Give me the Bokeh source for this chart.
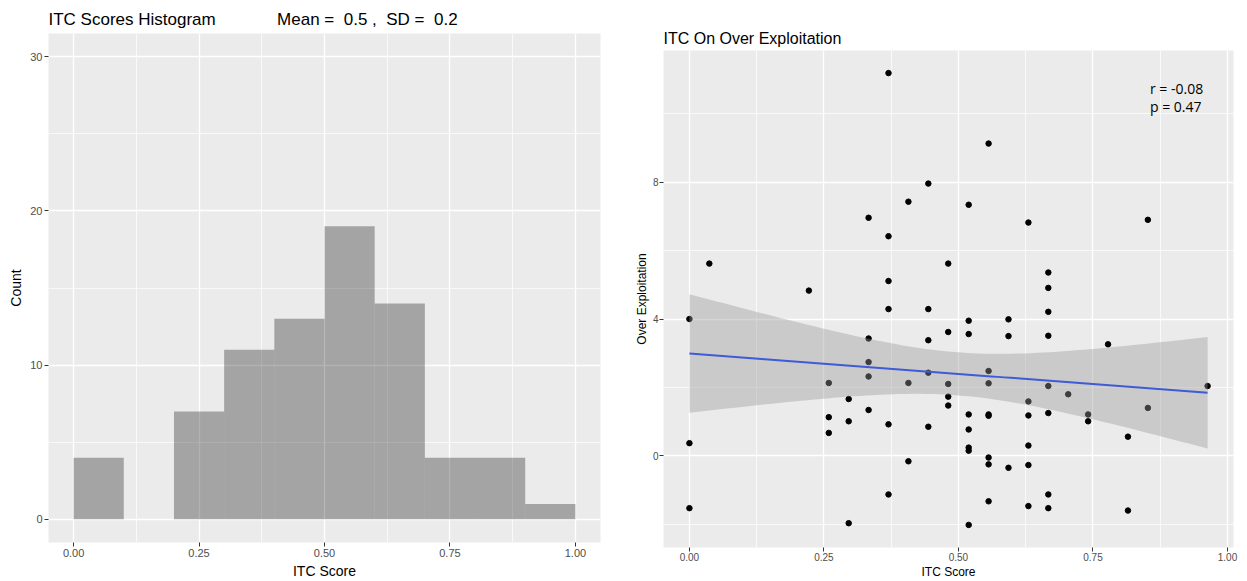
import numpy as np
from bokeh.plotting import figure
from bokeh.models import Range1d, FixedTicker, PrintfTickFormatter, Label, Title
from bokeh.layouts import row, column
from bokeh.embed import file_html
from bokeh.resources import INLINE

# ---------------- data ----------------
# Histogram of ITC scores (bin width 0.1)
bin_edges = [0.0, 0.1, 0.2, 0.3, 0.4, 0.5, 0.6, 0.7, 0.8, 0.9, 1.0]
bin_counts = [4, 0, 7, 11, 13, 19, 14, 4, 4, 1]
hist_title = "ITC Scores Histogram"
hist_stats = "Mean =  0.5 ,  SD =  0.2"

# Scatter: ITC score vs over exploitation
itc_score = [
    0.000, 0.000, 0.000, 0.037, 0.222,
    0.259, 0.259, 0.259, 0.296, 0.296, 0.296,
    0.333, 0.333, 0.333, 0.333, 0.333,
    0.370, 0.370, 0.370, 0.370, 0.370, 0.370,
    0.407, 0.407, 0.407,
    0.444, 0.444, 0.444, 0.444, 0.444,
    0.481, 0.481, 0.481, 0.481, 0.481,
    0.519, 0.519, 0.519, 0.519, 0.519, 0.519, 0.519, 0.519,
    0.556, 0.556, 0.556, 0.556, 0.556, 0.556, 0.556, 0.556,
    0.593, 0.593, 0.593,
    0.630, 0.630, 0.630, 0.630, 0.630, 0.630,
    0.667, 0.667, 0.667, 0.667, 0.667, 0.667, 0.667, 0.667,
    0.704, 0.741, 0.741, 0.778, 0.815, 0.815, 0.852, 0.852, 0.963,
]
over_exploitation = [
    4.00, 0.37, -1.53, 5.62, 4.83,
    2.13, 1.13, 0.67, 1.66, 1.01, -1.97,
    6.96, 3.43, 2.74, 2.32, 1.34,
    11.19, 6.42, 5.11, 4.29, 0.92, -1.13,
    7.43, 2.13, -0.16,
    7.96, 4.29, 3.38, 2.43, 0.85,
    5.62, 3.62, 2.10, 1.73, 1.47,
    7.34, 3.95, 3.56, 1.21, 0.77, 0.24, 0.15, -2.02,
    9.13, 2.48, 2.12, 1.21, 1.17, -0.05, -0.25, -1.33,
    3.99, 3.50, -0.35,
    6.82, 1.59, 1.18, 0.30, -0.27, -1.47,
    5.36, 4.91, 4.21, 3.51, 2.04, 1.25, -1.13, -1.53,
    1.80, 1.21, 1.01, 3.26, 0.56, -1.60, 6.90, 1.40, 2.04,
]
scatter_title = "ITC On Over Exploitation"
stat_r = "r = -0.08"
stat_p = "p = 0.47"
T_975 = 1.992  # t quantile, 95% CI, df = n - 2

FONT = "Liberation Sans"
NBSP = "\u00a0"


def style(p, xt, xminor, yt, yminor, xfmt, yfmt, tick_size, label_size):
    xtick = FixedTicker(ticks=xt, minor_ticks=xminor)
    ytick = FixedTicker(ticks=yt, minor_ticks=yminor)
    p.xaxis.ticker = xtick
    p.yaxis.ticker = ytick
    p.xgrid.ticker = xtick
    p.ygrid.ticker = ytick
    p.xaxis.formatter = PrintfTickFormatter(format=xfmt)
    p.yaxis.formatter = PrintfTickFormatter(format=yfmt)
    for g in (p.xgrid, p.ygrid):
        g.grid_line_color = "white"
        g.grid_line_width = 1.3
        g.minor_grid_line_color = "white"
        g.minor_grid_line_width = 0.7
    p.axis.axis_line_color = None
    p.axis.major_tick_line_color = "#333333"
    p.axis.major_tick_out = 4
    p.axis.major_tick_in = 0
    p.axis.minor_tick_line_color = None
    p.axis.major_label_text_color = "#4D4D4D"
    p.axis.major_label_text_font = FONT
    p.axis.major_label_text_font_size = tick_size
    p.axis.major_label_standoff = 2
    p.axis.axis_label_standoff = 3
    p.axis.axis_label_text_font = FONT
    p.axis.axis_label_text_font_style = "normal"
    p.axis.axis_label_text_font_size = label_size
    p.axis.axis_label_text_color = "black"
    p.outline_line_color = None
    p.background_fill_color = "#EBEBEB"
    p.border_fill_color = "white"


# ---------------- left: histogram ----------------
p1 = figure(width=620, height=581, output_backend="svg", toolbar_location=None,
            x_range=Range1d(-0.05, 1.05), y_range=Range1d(-1.5, 31.5),
            min_border_left=48, min_border_right=20, min_border_top=33, min_border_bottom=38,
            x_axis_label="ITC Score", y_axis_label="Count")
p1.title = Title(text=hist_title + NBSP * 13 + hist_stats.replace("  ", " " + NBSP),
                 align="left", text_font=FONT, text_font_size="17px",
                 text_font_style="normal", text_color="black", standoff=9)
style(p1, [0, 0.25, 0.5, 0.75, 1.0], [0.125, 0.375, 0.625, 0.875],
      [0, 10, 20, 30], [5, 15, 25], "%.2f", "%d", "11px", "14px")
p1.quad(left=bin_edges[:-1], right=bin_edges[1:], bottom=0, top=bin_counts,
        fill_color="black", fill_alpha=0.3, line_color=None)

# ---------------- right: scatter + lm fit ----------------
x = np.array(itc_score)
y = np.array(over_exploitation)
n = len(x)
slope, intercept = np.polyfit(x, y, 1)
resid = y - (intercept + slope * x)
s = np.sqrt(np.sum(resid ** 2) / (n - 2))
xbar = x.mean()
sxx = np.sum((x - xbar) ** 2)
xs = np.linspace(x.min(), x.max(), 80)
fit = intercept + slope * xs
se = s * np.sqrt(1.0 / n + (xs - xbar) ** 2 / sxx)
lower = fit - T_975 * se
upper = fit + T_975 * se

dx = x.max() - x.min()
dy = y.max() - y.min()
p2 = figure(width=627, height=581, output_backend="svg", toolbar_location=None,
            x_range=Range1d(x.min() - 0.05 * dx, x.max() + 0.05 * dx),
            y_range=Range1d(y.min() - 0.05 * dy, y.max() + 0.05 * dy),
            min_border_left=43, min_border_right=14, min_border_top=50, min_border_bottom=34,
            x_axis_label="ITC Score", y_axis_label="Over Exploitation")
p2.title = Title(text=scatter_title, align="left", text_font=FONT, text_font_size="16px",
                 text_font_style="normal", text_color="black", standoff=8)
style(p2, [0, 0.25, 0.5, 0.75, 1.0], [0.125, 0.375, 0.625, 0.875],
      [0, 4, 8], [-2, 2, 6, 10], "%.2f", "%d", "10px", "12px")
p2.axis.axis_label_standoff = 1
p2.axis.major_label_standoff = 1
p2.scatter(x, y, size=5.5, color="black")
p2.varea(x=xs, y1=lower, y2=upper, fill_color="#999999", fill_alpha=0.4)
p2.line(xs, fit, line_color="#3F5BD6", line_width=2)
p2.add_layout(Label(x=0.856, y=10.75, text=stat_r, text_font="Open Sans", text_font_size="14px",
                    text_color="black", text_baseline="alphabetic"))
p2.add_layout(Label(x=0.856, y=10.21, text=stat_p, text_font="Open Sans", text_font_size="14px",
                    text_color="black", text_baseline="alphabetic"))

layout = row(column(p1), column(p2))
open("out.html", "w").write(file_html(layout, INLINE))
